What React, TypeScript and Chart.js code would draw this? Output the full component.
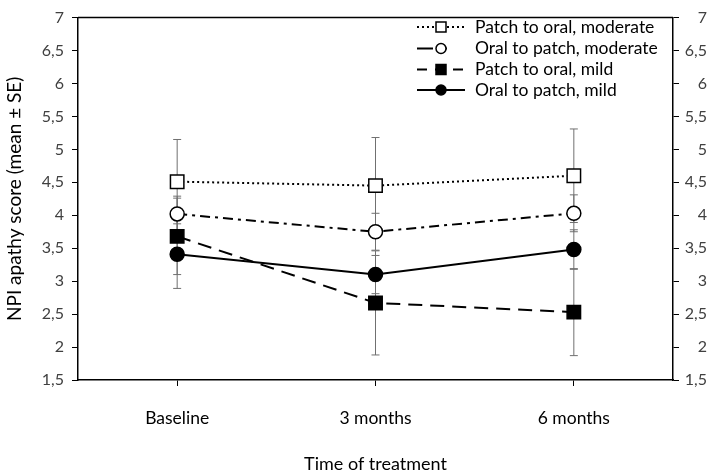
import React, { useEffect, useRef } from "react";
import { Chart, registerables } from "chart.js";

Chart.register(...registerables);

const categories = ["Baseline", "3 months", "6 months"];
const seriesNames = [
  "Patch to oral, moderate",
  "Oral to patch, moderate",
  "Patch to oral, mild",
  "Oral to patch, mild",
];
const patchToOralModerate = [4.51, 4.45, 4.6];
const oralToPatchModerate = [4.02, 3.75, 4.03];
const patchToOralMild = [3.68, 2.67, 2.53];
const oralToPatchMild = [3.41, 3.1, 3.48];
const sePatchToOralModerate = [0.64, 0.73, 0.71];
const seOralToPatchModerate = [0.27, 0.28, 0.28];
const sePatchToOralMild = [0.58, 0.79, 0.66];
const seOralToPatchMild = [0.52, 0.29, 0.3];
const yTicks = [1.5, 2, 2.5, 3, 3.5, 4, 4.5, 5, 5.5, 6, 6.5, 7];

const FONT = "Lato, 'Open Sans', sans-serif";

const errorBarPlugin = {
  id: "errorBars",
  beforeDatasetsDraw(chart: any) {
    const ctx = chart.ctx;
    const y = chart.scales.y;
    ctx.save();
    ctx.strokeStyle = "#707070";
    ctx.lineWidth = 1;
    chart.data.datasets.forEach((ds: any, i: number) => {
      const meta = chart.getDatasetMeta(i);
      meta.data.forEach((pt: any, j: number) => {
        const v = ds.data[j];
        const e = ds.se[j];
        const yt = y.getPixelForValue(v + e);
        const yb = y.getPixelForValue(v - e);
        const x = pt.x;
        ctx.beginPath();
        ctx.moveTo(x, yt);
        ctx.lineTo(x, yb);
        ctx.moveTo(x - 4, yt);
        ctx.lineTo(x + 4, yt);
        ctx.moveTo(x - 4, yb);
        ctx.lineTo(x + 4, yb);
        ctx.stroke();
      });
    });
    ctx.restore();
  },
  afterDraw(chart: any) {
    const ctx = chart.ctx;
    const a = chart.chartArea;
    ctx.save();
    ctx.strokeStyle = "#000";
    ctx.lineWidth = 1.5;
    ctx.beginPath();
    ctx.moveTo(a.left, a.top);
    ctx.lineTo(a.right, a.top);
    ctx.stroke();
    // legend
    const rowY = [27, 48.5, 69.5, 90];
    const x0 = 417;
    const x1 = 465;
    const xm = 441;
    chart.data.datasets.forEach((ds: any, i: number) => {
      const yy = rowY[i];
      ctx.save();
      ctx.strokeStyle = "#000";
      ctx.lineWidth = ds.borderWidth;
      ctx.setLineDash(ds.legendDash || ds.borderDash || []);
      ctx.beginPath();
      ctx.moveTo(x0, yy);
      ctx.lineTo(x1, yy);
      ctx.stroke();
      ctx.setLineDash([]);
      ctx.fillStyle = ds.pointBackgroundColor;
      ctx.lineWidth = 1.5;
      ctx.beginPath();
      if (ds.pointStyle === "rect") {
        ctx.rect(xm - 5, yy - 5, 10, 10);
      } else {
        ctx.arc(xm, yy, 5, 0, Math.PI * 2);
      }
      ctx.fill();
      ctx.stroke();
      ctx.restore();
      ctx.fillStyle = "#000";
      ctx.font = "17.5px " + FONT;
      ctx.textBaseline = "middle";
      ctx.textAlign = "left";
      ctx.fillText(ds.label, 475, yy);
    });
    ctx.restore();
  },
};

const fmt = (v: any) => String(v).replace(".", ",");

export default function App() {
  const ref = useRef<HTMLCanvasElement | null>(null);
  useEffect(() => {
    document.body.style.margin = "0";
    const common = {
      borderColor: "#000",
      pointBorderColor: "#000",
      pointBorderWidth: 1.5,
      borderWidth: 2,
      tension: 0,
    };
    const chart = new Chart(ref.current as HTMLCanvasElement, {
      type: "line",
      data: {
        labels: categories,
        datasets: [
          {
            ...common,
            label: seriesNames[0],
            data: patchToOralModerate,
            se: sePatchToOralModerate,
            borderDash: [2, 3],
            legendDash: [2, 3],
            pointStyle: "rect",
            pointRadius: 9.5,
            pointBackgroundColor: "#fff",
          },
          {
            ...common,
            label: seriesNames[1],
            data: oralToPatchModerate,
            se: seOralToPatchModerate,
            borderDash: [10, 5, 3, 5],
            legendDash: [16, 6, 8, 30],
            pointStyle: "circle",
            pointRadius: 7,
            pointBackgroundColor: "#fff",
          },
          {
            ...common,
            label: seriesNames[2],
            data: patchToOralMild,
            se: sePatchToOralMild,
            borderDash: [14, 8],
            legendDash: [10, 8],
            pointStyle: "rect",
            pointRadius: 9.5,
            pointBackgroundColor: "#000",
          },
          {
            ...common,
            label: seriesNames[3],
            data: oralToPatchMild,
            se: seOralToPatchMild,
            borderDash: [],
            pointStyle: "circle",
            pointRadius: 7,
            pointBackgroundColor: "#000",
          },
        ] as any,
      },
      options: {
        responsive: false,
        animation: false,
        layout: { padding: { top: 10, left: 0, right: 7, bottom: 0 } },
        plugins: { legend: { display: false }, tooltip: { enabled: false } },
        scales: {
          x: {
            offset: true,
            grid: { drawOnChartArea: false, drawTicks: true, tickLength: 6, color: "#000", offset: false },
            border: { color: "#000", width: 1.5 },
            ticks: { color: "#000", padding: 22, font: { family: FONT, size: 17.5 } },
            title: {
              display: true,
              text: "Time of treatment",
              color: "#000",
              font: { family: FONT, size: 18 },
              padding: { top: 0, bottom: 1 },
            },
            afterFit(s: any) {
              s.height = 96;
            },
          },
          y: {
            position: "left",
            min: 1.5,
            max: 7,
            afterBuildTicks(s: any) {
              s.ticks = yTicks.map((v) => ({ value: v }));
            },
            grid: { drawOnChartArea: false, drawTicks: true, tickLength: 6, color: "#000" },
            border: { color: "#000", width: 1.5 },
            ticks: { color: "#404040", padding: 8, font: { family: FONT, size: 16 }, callback: fmt },
            title: {
              display: true,
              text: "NPI apathy score (mean ± SE)",
              color: "#000",
              font: { family: FONT, size: 19 },
              padding: { top: 3, bottom: 0 },
            },
            afterFit(s: any) {
              s.width = 78;
            },
          },
          y2: {
            position: "right",
            min: 1.5,
            max: 7,
            afterBuildTicks(s: any) {
              s.ticks = yTicks.map((v) => ({ value: v }));
            },
            grid: { drawOnChartArea: false, drawTicks: true, tickLength: 6, color: "#000" },
            border: { color: "#000", width: 1.5 },
            ticks: { color: "#404040", padding: 1, crossAlign: "far", font: { family: FONT, size: 16 }, callback: fmt },
            afterFit(s: any) {
              s.width = 34;
            },
          },
        },
      } as any,
      plugins: [errorBarPlugin],
    });
    return () => chart.destroy();
  }, []);
  return (
    <div style={{ width: 714, height: 476 }}>
      <canvas ref={ref} width={714} height={476} />
    </div>
  );
}
